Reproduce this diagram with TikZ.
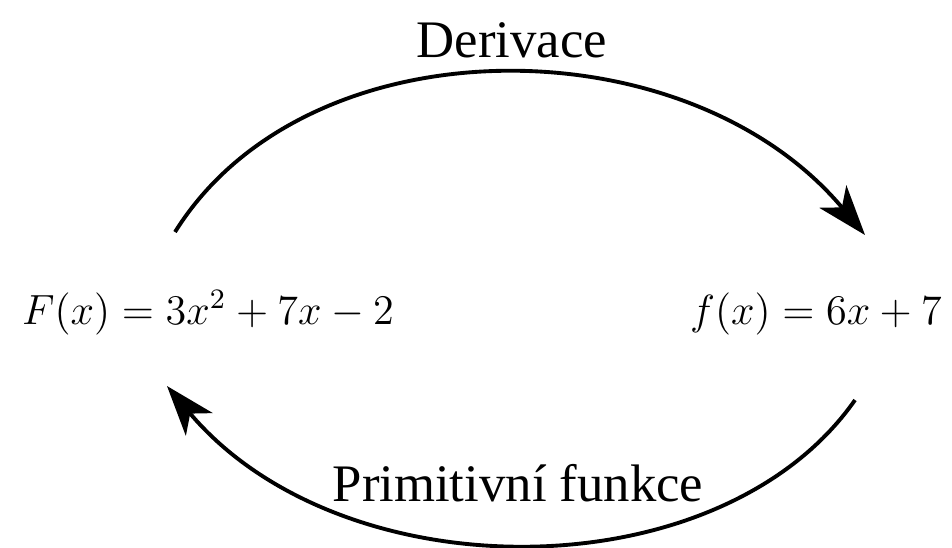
\documentclass[tikz,border=0pt]{standalone}
\usepackage[no-math]{fontspec}
\usepackage{tikz}
\usetikzlibrary{arrows.meta,positioning}
\newfontfamily\lblfont{Liberation Serif}

\begin{document}
\begin{tikzpicture}[
  x=0.01cm, y=-0.01cm,
  fn/.style={inner sep=0pt, anchor=base, font=\fontsize{12.1}{15}\selectfont},
  lbl/.style={inner sep=0pt, font=\lblfont\fontsize{15}{18}\selectfont},
  arr/.style={-{Stealth[length=5mm, width=3.5mm, inset=1.4mm]}, line width=1.1pt},
]
\useasboundingbox (0,0) rectangle (952,547);
\node[fn] (prim) at (208,324) {$F(x) = 3x^2 + 7x - 2$};
\node[fn] (deriv) at (816,324) {$f(x) = 6x + 7$};
\node[lbl] (top) at (512,40) {Derivace};
\node[lbl] (bot) at (518,483) {Primitivní funkce};
\coordinate (ts) at (175,232);
\coordinate (te) at (865,235);
\coordinate (bs) at (855,400);
\coordinate (be) at (167,386);
\draw[arr] (ts) .. controls +(132,-212) and +(-178,-213) .. (te);
\draw[arr] (bs) .. controls +(-135,193) and +(175,208) .. (be);
\end{tikzpicture}
\end{document}
